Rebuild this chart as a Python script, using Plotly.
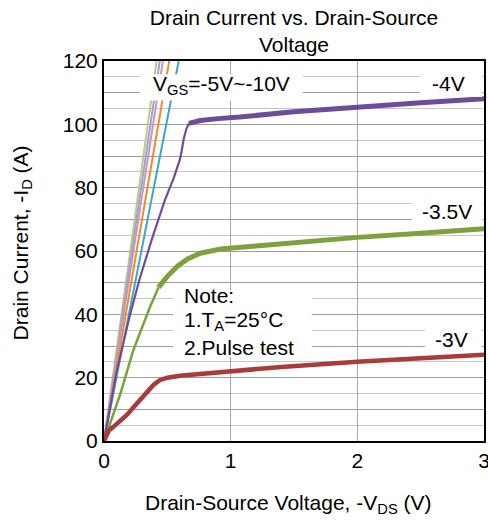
import plotly.graph_objects as go

# ---- data ----
# VGS = -5V ... -10V : nearly linear lines from the origin (end point at top of axis)
vgs_hi_colors = ["#b3cf8c", "#ab9ec9", "#c29ac0", "#f28a2e", "#3ea6c6"]
vgs_hi_x = [[0, 0.415], [0, 0.44], [0, 0.465], [0, 0.515], [0, 0.59]]
vgs_hi_y = [[0, 120], [0, 120], [0, 120], [0, 120], [0, 120]]

# VGS = -4V
v4_lin_x = [0, 0.1, 0.2, 0.28, 0.38, 0.48, 0.55, 0.6, 0.615, 0.63, 0.65, 0.67]
v4_lin_y = [0, 22, 39, 51, 64, 76, 83, 89, 92, 95.5, 98.5, 100.3]
v4_sat_x = [0.67, 0.71, 0.76, 0.9, 1.07, 1.5, 2.0, 2.5, 3.0]
v4_sat_y = [100.3, 100.8, 101.2, 101.8, 102.3, 104.0, 105.5, 106.8, 108.1]

# VGS = -3.5V
v35_lin_x = [0, 0.05, 0.1, 0.13, 0.23, 0.30, 0.36, 0.43]
v35_lin_y = [0, 6, 11.5, 15, 28.5, 36, 42, 48.5]
v35_sat_x = [0.43, 0.5, 0.58, 0.66, 0.76, 0.92, 1.2, 1.6, 2.0, 2.5, 3.0]
v35_sat_y = [48.5, 52, 55.2, 57.5, 59.3, 60.6, 61.6, 63.0, 64.3, 65.6, 67.0]

# VGS = -3V
v3_x = [0, 0.02, 0.04, 0.07, 0.13, 0.18, 0.23, 0.28, 0.34, 0.39, 0.44, 0.5, 0.6, 0.76, 1.0, 1.4, 2.0, 2.5, 3.0]
v3_y = [0, 2.2, 3.4, 4.3, 6.2, 8.2, 10.5, 12.8, 15.5, 17.7, 19.2, 20.0, 20.6, 21.2, 21.9, 23.4, 25.0, 26.1, 27.2]

x_ticks = [0, 1, 2, 3]
y_ticks = [0, 10, 20, 30, 40, 50, 60, 70, 80, 90, 100, 110, 120]
y_ticktext = ["0", "", "20", "", "40", "", "60", "", "80", "", "100", "", "120"]

FONT = "Liberation Sans, Arial, sans-serif"
PURPLE = "#6c4d9b"
GREEN = "#7ba23c"
RED = "#a93b3b"

fig = go.Figure()

for xs, ys, c in zip(vgs_hi_x, vgs_hi_y, vgs_hi_colors):
    fig.add_trace(go.Scatter(x=xs, y=ys, mode="lines", line=dict(color=c, width=2)))

fig.add_trace(go.Scatter(x=v4_lin_x, y=v4_lin_y, mode="lines", line=dict(color=PURPLE, width=2.2)))
fig.add_trace(go.Scatter(x=v4_sat_x, y=v4_sat_y, mode="lines", line=dict(color=PURPLE, width=5)))
fig.add_trace(go.Scatter(x=v35_lin_x, y=v35_lin_y, mode="lines", line=dict(color=GREEN, width=2.5)))
fig.add_trace(go.Scatter(x=v35_sat_x, y=v35_sat_y, mode="lines", line=dict(color=GREEN, width=5)))
fig.add_trace(go.Scatter(x=v3_x, y=v3_y, mode="lines", line=dict(color=RED, width=4.5)))

# white label boxes (cover grid and lines, as in the reference)
boxes = [
    (0.284, 1.57, 107.5, 115.8),   # VGS label
    (2.495, 2.984, 108.6, 116.5),  # -4V
    (2.43, 2.99, 68.0, 77.8),      # -3.5V
    (2.534, 2.98, 28.3, 37.8),     # -3V
    (0.547, 1.64, 26.5, 47.6),     # note
]
shapes = []
for x0, x1, y0, y1 in boxes:
    shapes.append(dict(type="rect", xref="x", yref="y", x0=x0, x1=x1, y0=y0, y1=y1,
                       fillcolor="white", line=dict(width=0), layer="above"))

tf = dict(family=FONT, size=21, color="black")
annotations = [
    dict(x=0.93, y=112.3, text="V<sub>GS</sub>=-5V~-10V", showarrow=False, xanchor="center", yanchor="middle", font=tf),
    dict(x=2.716, y=113.0, text="-4V", showarrow=False, xanchor="center", yanchor="middle", font=tf),
    dict(x=2.705, y=72.4, text="-3.5V", showarrow=False, xanchor="center", yanchor="middle", font=tf),
    dict(x=2.745, y=32.2, text="-3V", showarrow=False, xanchor="center", yanchor="middle", font=tf),
    dict(x=0.615, y=46.0, text="Note:", showarrow=False, xanchor="left", yanchor="middle", font=tf),
    dict(x=0.615, y=37.8, text="1.T<sub>A</sub>=25°C", showarrow=False, xanchor="left", yanchor="middle", font=tf),
    dict(x=0.615, y=29.6, text="2.Pulse test", showarrow=False, xanchor="left", yanchor="middle", font=tf),
    # axis titles
    dict(xref="paper", yref="paper", x=0.485, y=0, yanchor="top", xanchor="center", yshift=-48,
         text="Drain-Source Voltage, -V<sub>DS</sub> (V)", showarrow=False, font=tf),
    dict(xref="paper", yref="paper", x=0, y=0.52, xanchor="center", yanchor="middle", xshift=-82,
         text="Drain Current, -I<sub>D</sub> (A)", textangle=-90, showarrow=False, font=tf),
]

fig.update_layout(
    width=488, height=523,
    margin=dict(l=104, r=4, t=61, b=82, autoexpand=False),
    paper_bgcolor="white", plot_bgcolor="white",
    showlegend=False,
    font=dict(family=FONT, size=21, color="black"),
    title=dict(text="Drain Current vs. Drain-Source<br>Voltage", x=0.5, xref="paper",
               y=0.9525, yref="container", yanchor="middle", xanchor="center",
               font=dict(family=FONT, size=21, color="black")),
    shapes=shapes,
    annotations=annotations,
)

fig.update_xaxes(range=[0, 3], tickvals=x_ticks, showgrid=True, gridcolor="#a6a6a6", gridwidth=1,
                 zeroline=False, showline=True, linecolor="black", linewidth=2, mirror=True,
                 ticks="", automargin=False, ticklabeloverflow="allow",
                 tickfont=dict(family=FONT, size=21))
fig.update_yaxes(range=[0, 120], tickvals=y_ticks, ticktext=y_ticktext, showgrid=True,
                 gridcolor="#9c9c9c", gridwidth=1.4,
                 minor=dict(dtick=5, showgrid=True, gridcolor="#c6c6c6", gridwidth=1.4),
                 zeroline=False, showline=True, linecolor="black", linewidth=2, mirror=True,
                 ticks="", automargin=False, tickfont=dict(family=FONT, size=21))

fig.write_html("out.html", config={"displayModeBar": False},
               post_script="document.body.style.margin='0';")
